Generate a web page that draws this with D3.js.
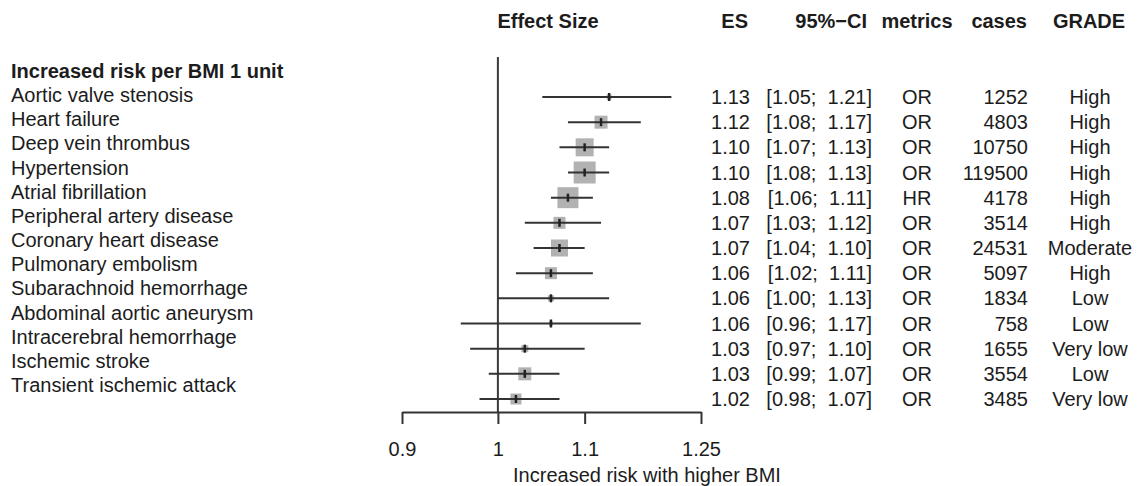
<!DOCTYPE html>
<html>
<head>
<meta charset="utf-8">
<script src="https://cdn.jsdelivr.net/npm/d3@7"></script>
<style>
  html, body { margin: 0; padding: 0; background: #fff; }
  svg { display: block; font-family: "Liberation Sans", Arial, sans-serif; }
</style>
</head>
<body>
<svg id="chart" width="1137" height="486"></svg>
<script>
const groupTitle = "Increased risk per BMI 1 unit";
const outcomes = ["Aortic valve stenosis", "Heart failure", "Deep vein thrombus", "Hypertension",
  "Atrial fibrillation", "Peripheral artery disease", "Coronary heart disease", "Pulmonary embolism",
  "Subarachnoid hemorrhage", "Abdominal aortic aneurysm", "Intracerebral hemorrhage",
  "Ischemic stroke", "Transient ischemic attack"];
const es      = [1.13, 1.12, 1.10, 1.10, 1.08, 1.07, 1.07, 1.06, 1.06, 1.06, 1.03, 1.03, 1.02];
const ciLow   = [1.05, 1.08, 1.07, 1.08, 1.06, 1.03, 1.04, 1.02, 1.00, 0.96, 0.97, 0.99, 0.98];
const ciHigh  = [1.21, 1.17, 1.13, 1.13, 1.11, 1.12, 1.10, 1.11, 1.13, 1.17, 1.10, 1.07, 1.07];
const metrics = ["OR", "OR", "OR", "OR", "HR", "OR", "OR", "OR", "OR", "OR", "OR", "OR", "OR"];
const cases   = [1252, 4803, 10750, 119500, 4178, 3514, 24531, 5097, 1834, 758, 1655, 3554, 3485];
const grade   = ["High", "High", "High", "High", "High", "High", "Moderate", "High", "Low", "Low",
  "Very low", "Low", "Very low"];
const weights = [25, 169, 324, 484, 441, 144, 289, 144, 36, 16, 49, 169, 121];
const tickValues = [0.9, 1, 1.1, 1.25];
const tickLabels = ["0.9", "1", "1.1", "1.25"];
const headers = ["Effect Size", "ES", "95%\u2212CI", "metrics", "cases", "GRADE"];
const xTitle = "Increased risk with higher BMI";

const svg = d3.select("#chart");
const FS = 20;
const textColor = "#1c1c1c";
const lineColor = "#333";

const x = d3.scaleLog().domain([0.9, 1.25]).range([402, 701]);
const yRow = d3.scalePoint().domain(outcomes).range([97, 399]);
const yLab = d3.scalePoint().domain(outcomes).range([95, 385]);
const boxSize = d3.scaleSqrt().domain([0, d3.max(weights)]).range([0, 22]);

const rows = outcomes.map((o, i) => ({o, es: es[i], lo: ciLow[i], hi: ciHigh[i],
  m: metrics[i], c: cases[i], g: grade[i], w: weights[i]}));

const fmt2 = d3.format(".2f");

// headers
const hdrY = 21;
const hdr = svg.append("g").attr("font-weight", "bold").attr("font-size", FS).attr("fill", textColor);
const hdrPos = [[548, "middle"], [748, "end"], [867, "end"], [917, "middle"], [1027, "end"], [1089, "middle"]];
headers.forEach((h, i) => {
  hdr.append("text").attr("x", hdrPos[i][0]).attr("y", hdrY).attr("dy", "0.35em")
    .attr("text-anchor", hdrPos[i][1]).text(h);
});

// left labels
svg.append("text").attr("x", 11).attr("y", 71).attr("dy", "0.35em")
  .attr("font-size", FS).attr("font-weight", "bold").attr("fill", textColor).text(groupTitle);
svg.append("g").selectAll("text").data(rows).join("text")
  .attr("x", 11).attr("y", d => yLab(d.o)).attr("dy", "0.35em")
  .attr("font-size", FS).attr("fill", textColor).text(d => d.o);

// reference line at 1
svg.append("line").attr("x1", x(1)).attr("x2", x(1)).attr("y1", 57).attr("y2", 412)
  .attr("stroke", "#3a3a3a").attr("stroke-width", 2);

// boxes
const g = svg.append("g");
g.selectAll("rect.box").data(rows).join("rect").attr("class", "box")
  .attr("x", d => x(d.es) - boxSize(d.w) / 2).attr("y", d => yRow(d.o) - boxSize(d.w) / 2)
  .attr("width", d => boxSize(d.w)).attr("height", d => boxSize(d.w))
  .attr("fill", "#b2b2b2");
g.selectAll("line.ci").data(rows).join("line").attr("class", "ci")
  .attr("x1", d => x(d.lo)).attr("x2", d => x(d.hi))
  .attr("y1", d => yRow(d.o)).attr("y2", d => yRow(d.o))
  .attr("stroke", lineColor).attr("stroke-width", 2);
g.selectAll("rect.pt").data(rows).join("rect").attr("class", "pt")
  .attr("x", d => x(d.es) - 1.25).attr("y", d => yRow(d.o) - 4)
  .attr("width", 2.5).attr("height", 8).attr("fill", "#222");

// axis
const axis = d3.axisBottom(x).tickValues(tickValues)
  .tickFormat((d, i) => tickLabels[i]).tickSize(12).tickSizeOuter(0).tickPadding(18);
const ax = svg.append("g").attr("transform", "translate(0,412)").call(axis);
ax.select(".domain").attr("stroke", lineColor).attr("stroke-width", 2);
ax.selectAll(".tick line").attr("stroke", lineColor).attr("stroke-width", 2);
ax.selectAll(".tick text").attr("font-size", FS).attr("fill", textColor)
  .attr("font-family", "Liberation Sans, Arial, sans-serif");

svg.append("text").attr("x", 647).attr("y", 475).attr("dy", "0.35em")
  .attr("text-anchor", "middle").attr("font-size", FS).attr("fill", textColor).text(xTitle);

// right columns
const cols = svg.append("g").attr("font-size", FS).attr("fill", textColor);
cols.selectAll("text.es").data(rows).join("text").attr("class", "es")
  .attr("x", 750).attr("y", d => yRow(d.o)).attr("dy", "0.35em").attr("text-anchor", "end")
  .text(d => fmt2(d.es));
cols.selectAll("text.ci").data(rows).join("text").attr("class", "ci")
  .attr("x", 872).attr("y", d => yRow(d.o)).attr("dy", "0.35em").attr("text-anchor", "end")
  .style("white-space", "pre")
  .text(d => "[" + fmt2(d.lo) + ";  " + fmt2(d.hi) + "]");
cols.selectAll("text.m").data(rows).join("text").attr("class", "m")
  .attr("x", 917).attr("y", d => yRow(d.o)).attr("dy", "0.35em").attr("text-anchor", "middle")
  .text(d => d.m);
cols.selectAll("text.c").data(rows).join("text").attr("class", "c")
  .attr("x", 1028).attr("y", d => yRow(d.o)).attr("dy", "0.35em").attr("text-anchor", "end")
  .text(d => d.c);
cols.selectAll("text.g").data(rows).join("text").attr("class", "g")
  .attr("x", 1090).attr("y", d => yRow(d.o)).attr("dy", "0.35em").attr("text-anchor", "middle")
  .text(d => d.g);
</script>
</body>
</html>
